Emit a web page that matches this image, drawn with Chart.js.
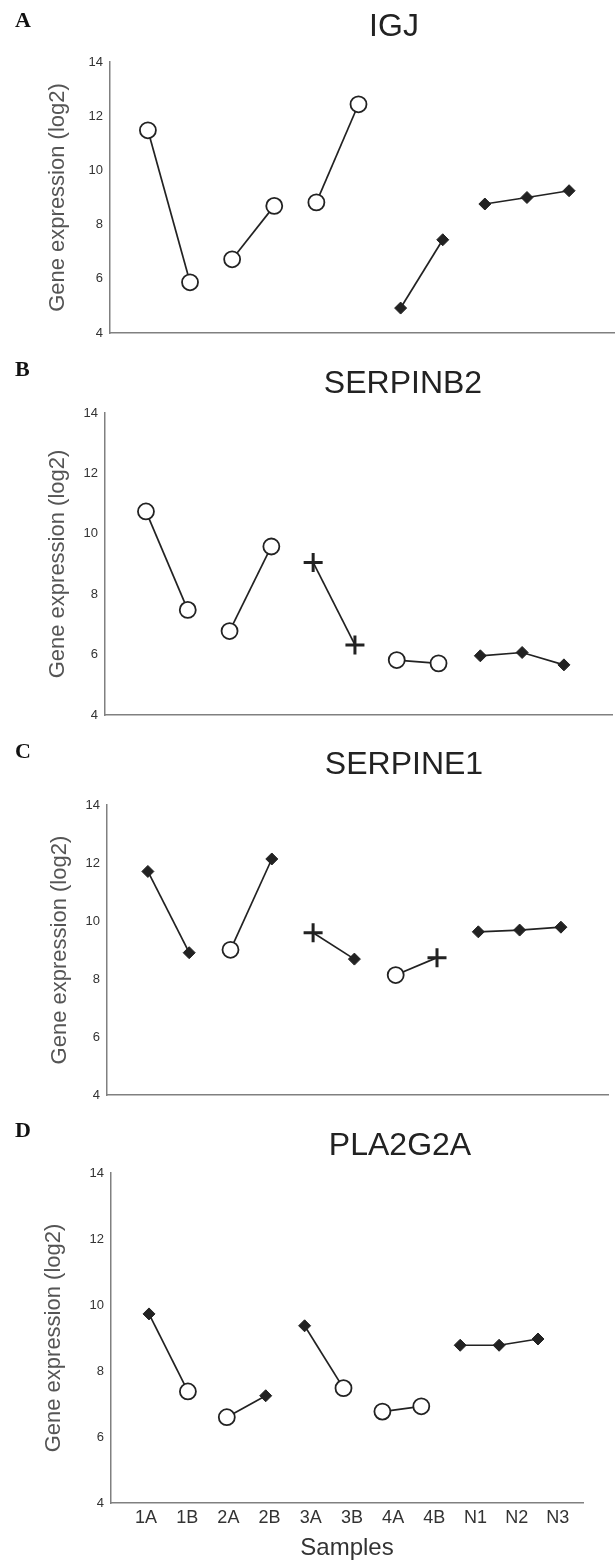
<!DOCTYPE html>
<html>
<head>
<meta charset="utf-8">
<script src="https://cdn.jsdelivr.net/npm/chart.js@4"></script>
<style>
  html, body { margin: 0; padding: 0; background: #fff; }
  #wrap { position: relative; width: 615px; height: 1565px; }
  canvas { position: absolute; left: 0; }
</style>
</head>
<body>
<div id="wrap">
  <canvas id="panel-a" width="615" height="350" style="top:0px"></canvas>
  <canvas id="panel-b" width="615" height="380" style="top:350px"></canvas>
  <canvas id="panel-c" width="615" height="380" style="top:730px"></canvas>
  <canvas id="panel-d" width="615" height="455" style="top:1110px"></canvas>
</div>
<script>
// sample order on the x axis
const samples = ["1A", "1B", "2A", "2B", "3A", "3B", "4A", "4B", "N1", "N2", "N3"];

// gene expression (log2) per sample
const igj = [11.48, 5.87, 6.72, 8.69, 8.82, 12.44, 4.92, 7.44, 8.76, 9.0, 9.25];
const serpinb2 = [10.74, 7.48, 6.78, 9.58, 9.05, 6.32, 5.82, 5.71, 5.96, 6.07, 5.66];
const serpine1 = [11.71, 8.91, 9.01, 12.14, 9.6, 8.69, 8.14, 8.74, 9.63, 9.69, 9.79];
const pla2g2a = [9.73, 7.38, 6.6, 7.25, 9.37, 7.48, 6.77, 6.93, 8.78, 8.78, 8.97];

// marker per sample: O = open circle, D = filled diamond, P = plus
const igjMarks = ["O", "O", "O", "O", "O", "O", "D", "D", "D", "D", "D"];
const serpinb2Marks = ["O", "O", "O", "O", "P", "P", "O", "O", "D", "D", "D"];
const serpine1Marks = ["D", "D", "O", "D", "P", "D", "O", "P", "D", "D", "D"];
const pla2g2aMarks = ["D", "O", "O", "D", "D", "O", "O", "O", "D", "D", "D"];

// which samples are joined by a line
const groups = [[0, 1], [2, 3], [4, 5], [6, 7], [8, 9, 10]];

const SANS = '"Liberation Sans", Arial, Helvetica, sans-serif';
const INK = "#222";

const markStyle = {
    O: { style: "circle", radius: 8, fill: "#fff", width: 1.8 },
    D: { style: "rectRot", radius: 6, fill: INK, width: 1 },
    P: { style: "cross", radius: 9.5, fill: INK, width: 3 },
};

// draws the panel letter and the gene name
const panelText = {
    id: "panelText",
    afterDraw(chart, args, opts) {
        const ctx = chart.ctx;
        ctx.save();
        ctx.textBaseline = "middle";
        ctx.fillStyle = "#111";
        ctx.textAlign = "left";
        ctx.font = 'bold 22px "Liberation Serif", "Times New Roman", serif';
        ctx.fillText(opts.letter, 15, opts.letterY);
        ctx.fillStyle = INK;
        ctx.textAlign = "center";
        ctx.font = "32px " + SANS;
        ctx.fillText(opts.gene, opts.geneX, opts.geneY);
        ctx.restore();
    },
};

function sampleTicks(scale) {
    scale.ticks = samples.map((s, i) => ({ value: i }));
}

function buildDatasets(values, marks) {
    return groups.map(function (g) {
        return {
            data: g.map((i) => ({ x: i, y: values[i] })),
            xAxisID: "x",
            borderColor: INK,
            borderWidth: 1.7,
            tension: 0,
            clip: false,
            pointStyle: g.map((i) => markStyle[marks[i]].style),
            pointRadius: g.map((i) => markStyle[marks[i]].radius),
            pointBackgroundColor: g.map((i) => markStyle[marks[i]].fill),
            pointBorderColor: INK,
            pointBorderWidth: g.map((i) => markStyle[marks[i]].width),
        };
    });
}

function makePanel(id, values, marks, p) {
    const canvas = document.getElementById(id);
    const H = canvas.height;
    const scales = {
        y: {
            min: 4,
            max: 14,
            ticks: { stepSize: 2, padding: 7, color: "#333", font: { family: SANS, size: 13 } },
            grid: { display: false, drawTicks: false },
            border: { display: true, color: "#808080", width: 1.5 },
            title: {
                display: true,
                text: "Gene expression (log2)",
                color: "#555",
                font: { family: SANS, size: 22 },
                padding: { top: p.yTitle, bottom: 0 },
            },
            afterFit: function (scale) {
                scale.width = p.left;
            },
        },
        x: {
            type: "linear",
            min: p.xMin,
            max: p.xMax,
            display: !p.labels,
            afterBuildTicks: sampleTicks,
            ticks: { display: false, padding: 0 },
            grid: { display: false, drawTicks: false },
            border: { display: true, color: "#808080", width: 1.5 },
            afterFit: function (scale) {
                if (!p.labels) scale.height = H - p.bottom;
            },
        },
    };
    if (p.labels) {
        scales.xl = {
            type: "linear",
            position: "bottom",
            min: p.labels.min,
            max: p.labels.max,
            afterBuildTicks: sampleTicks,
            ticks: {
                autoSkip: false,
                maxRotation: 0,
                padding: 4,
                color: "#333",
                font: { family: SANS, size: 18 },
                callback: (v) => samples[v],
            },
            grid: { display: false, drawTicks: false },
            border: { display: true, color: "#808080", width: 1.5 },
            title: {
                display: true,
                text: "Samples",
                color: "#333",
                font: { family: SANS, size: 24 },
                padding: { top: 0, bottom: 2 },
            },
            afterFit: function (scale) {
                scale.height = H - p.bottom;
            },
        };
    }
    return new Chart(canvas, {
        type: "line",
        data: { datasets: buildDatasets(values, marks) },
        plugins: [panelText],
        options: {
            responsive: false,
            devicePixelRatio: 1,
            animation: false,
            layout: {
                autoPadding: false,
                padding: { top: p.top, left: 0, right: 615 - p.right, bottom: 0 },
            },
            scales: scales,
            plugins: {
                legend: { display: false },
                tooltip: { enabled: false },
                title: { display: false },
                panelText: p.text,
            },
        },
    });
}

makePanel("panel-a", igj, igjMarks, {
    left: 110, right: 615, top: 62, bottom: 333, yTitle: 45,
    xMin: -0.9, xMax: 11.09,
    text: { letter: "A", letterY: 21, gene: "IGJ", geneX: 394, geneY: 27 },
});
makePanel("panel-b", serpinb2, serpinb2Marks, {
    left: 105, right: 612, top: 63, bottom: 365, yTitle: 45,
    xMin: -0.98, xMax: 11.15,
    text: { letter: "B", letterY: 20, gene: "SERPINB2", geneX: 403, geneY: 34 },
});
makePanel("panel-c", serpine1, serpine1Marks, {
    left: 107, right: 608, top: 75, bottom: 367, yTitle: 47,
    xMin: -0.99, xMax: 11.14,
    text: { letter: "C", letterY: 22, gene: "SERPINE1", geneX: 404, geneY: 35 },
});
makePanel("panel-d", pla2g2a, pla2g2aMarks, {
    left: 111, right: 583, top: 63, bottom: 393, yTitle: 41,
    xMin: -0.977, xMax: 11.157,
    labels: { min: -0.85, max: 10.61 },
    text: { letter: "D", letterY: 21, gene: "PLA2G2A", geneX: 400, geneY: 36 },
});
</script>
</body>
</html>
